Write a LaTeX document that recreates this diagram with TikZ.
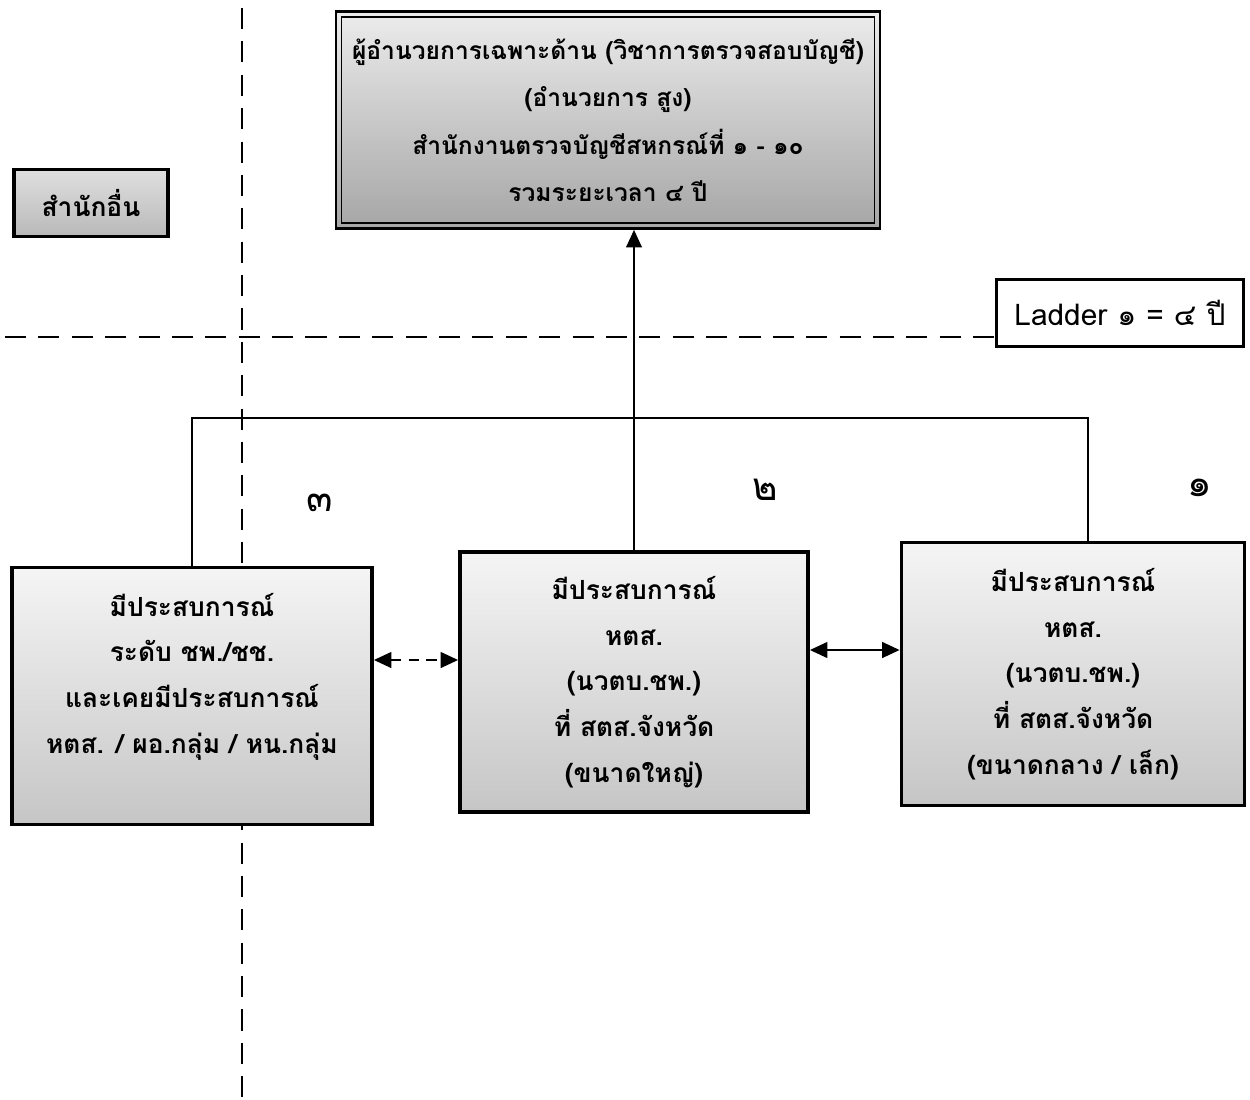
\documentclass[tikz,border=0pt]{standalone}
\usepackage{fontspec}
\newfontfamily\thai[Script=Thai]{Loma}
\usetikzlibrary{arrows.meta}

\begin{document}
\begin{tikzpicture}[x=0.02cm,y=-0.02cm,
   box/.style={draw,line width=2.2pt,align=center,inner sep=0pt,
      font=\thai\bfseries\fontsize{15}{26}\selectfont,
      top color=gray!8,bottom color=gray!45},
   num/.style={font=\thai\fontsize{22}{24}\selectfont},
   link/.style={line width=0.8pt},
   sep/.style={line width=1.6pt,dash pattern=on 12pt off 7pt},
   >={Triangle[length=10pt,width=9pt]}]
   \useasboundingbox (0,0) rectangle (1250,1099);
   \coordinate (vtop) at (242,8);
   \coordinate (vbot) at (242,1099);
   \draw[sep] (vtop) -- (vbot);

   \node[box,line width=1.6pt,minimum width=10.88cm,minimum height=4.34cm,
      font=\thai\bfseries\fontsize{14}{27}\selectfont,
      top color=gray!15,bottom color=gray!70] (top) at (608,120)
      {ผู้อำนวยการเฉพาะด้าน (วิชาการตรวจสอบบัญชี)\\(อำนวยการ สูง)\\สำนักงานตรวจบัญชีสหกรณ์ที่ ๑ - ๑๐\\รวมระยะเวลา ๔ ปี};
   \draw[line width=0.8pt] ([xshift=4pt,yshift=-4pt]top.north west) rectangle ([xshift=-4pt,yshift=4pt]top.south east);
   \node[box,line width=2pt,minimum width=3.08cm,minimum height=1.34cm,
      top color=gray!25,bottom color=gray!55] (other) at (91,203) {สำนักอื่น};
   \node[draw,line width=1.5pt,minimum width=4.94cm,minimum height=1.34cm,
      font=\thai\fontsize{17}{20}\selectfont] (ladder) at (1120,313) {Ladder ๑ = ๔ ปี};

   \coordinate (hl) at (5,337);
   \draw[sep] (hl) -- (hl -| ladder.west);

   \node[box,minimum width=7.2cm,minimum height=5.14cm] (exp3) at (192,696)
      {มีประสบการณ์\\ระดับ ชพ./ชช.\\และเคยมีประสบการณ์\\หตส. / ผอ.กลุ่ม / หน.กลุ่ม\\ ~};
   \node[box,minimum width=6.96cm,minimum height=5.2cm] (exp2) at (634,682)
      {มีประสบการณ์\\หตส.\\(นวตบ.ชพ.)\\ที่ สตส.จังหวัด\\(ขนาดใหญ่)};
   \node[box,minimum width=6.86cm,minimum height=5.26cm] (exp1) at (1073,674)
      {มีประสบการณ์\\หตส.\\(นวตบ.ชพ.)\\ที่ สตส.จังหวัด\\(ขนาดกลาง / เล็ก)};

   \node[num] (n3) at (320,503) {๓};
   \node[num] (n2) at (765,490) {๒};
   \node[num] (n1) at (1200,488) {๑};

   \coordinate (bar) at (634,418);
   \draw[link] (exp3.north) |- (bar) -| ([xshift=0.3cm]exp1.north);
   \draw[link,->] (exp2.north) -- (exp2.north |- top.south);

   \coordinate (a32) at (416,660);
   \draw[link,line width=1.2pt,dash pattern=on 6pt off 4pt,<->] (exp3.east |- a32) -- (exp2.west |- a32);
   \coordinate (a21) at (855,650);
   \draw[link,line width=1.2pt,<->] (exp2.east |- a21) -- (exp1.west |- a21);
\end{tikzpicture}
\end{document}
